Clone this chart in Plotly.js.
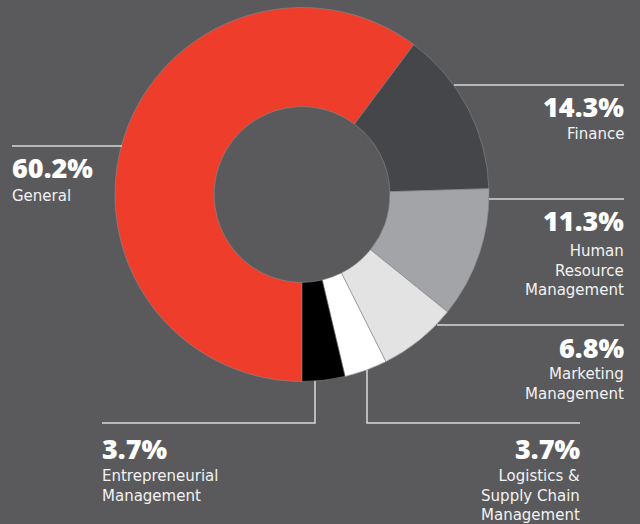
<!DOCTYPE html>
<html>
<head>
<meta charset="utf-8">
<script src="https://cdn.plot.ly/plotly-3.0.1.min.js"></script>
<style>
html,body{margin:0;padding:0;background:#5a5a5c;}
#chart{width:640px;height:524px;}
</style>
</head>
<body>
<div id="chart"></div>
<script>
// ---- data ----
const categories = ["General", "Finance", "Human Resource Management", "Marketing Management", "Logistics & Supply Chain Management", "Entrepreneurial Management"];
const shares = [60.2, 14.3, 11.3, 6.8, 3.7, 3.7];
const labelLines = [["General"], ["Finance"], ["Human", "Resource", "Management"], ["Marketing", "Management"], ["Logistics &", "Supply Chain", "Management"], ["Entrepreneurial", "Management"]];
const sliceColors = ["#ee3e2b", "#45464a", "#a3a4a7", "#e4e3e4", "#ffffff", "#000000"];

// ---- layout helpers (pixel placement of callouts) ----
const W = 640, H = 524;
const px = x => x / W;
const py = y => 1 - y / H;
// x: text edge, pc: percent cap centre, lt: first label cap top
const callouts = [
  {x: 12,  pc: 167.5, lt: 189, align: "left",  line: [[12,146],[122,146]]},
  {x: 624, pc: 106.3, lt: 127, align: "right", line: [[454,85],[624,85]]},
  {x: 624, pc: 220.7, lt: 244, align: "right", line: [[489,199],[624,199]]},
  {x: 624, pc: 347.8, lt: 367, align: "right", line: [[437,325],[624,325]]},
  {x: 580, pc: 448.3, lt: 469, align: "right", line: [[367,370],[367,423],[580,423]]},
  {x: 102, pc: 448.3, lt: 469, align: "left",  line: [[315,381],[315,423],[102,423]]}
];

const annotations = [];
const shapes = [];
callouts.forEach((c, i) => {
  const dx = c.align === "left" ? -1 : 1;
  annotations.push({
    xref: "paper", yref: "paper", x: px(c.x + dx), y: py(c.pc),
    xanchor: c.align, yanchor: "middle", showarrow: false, borderpad: 0,
    text: shares[i].toFixed(1) + "%",
    font: {family: "Open Sans, Roboto, sans-serif", size: 27, weight: 800, color: "#ffffff"}
  });
  annotations.push({
    xref: "paper", yref: "paper", x: px(c.x + dx), y: py(c.lt - 3),
    xanchor: c.align, yanchor: "top", align: c.align, showarrow: false, borderpad: 0,
    text: labelLines[i].join("<br>"),
    font: {family: "DejaVu Sans, sans-serif", size: 15, color: "#f2f2f2"}
  });
  const pts = c.line;
  let path = "M" + px(pts[0][0]) + "," + py(pts[0][1]);
  for (let k = 1; k < pts.length; k++) path += " L" + px(pts[k][0]) + "," + py(pts[k][1]);
  shapes.push({type: "path", xref: "paper", yref: "paper", path: path,
    line: {color: "#d9d9d9", width: 1.5}});
});

const trace = {
  type: "pie",
  labels: categories,
  values: shares,
  sort: false,
  direction: "clockwise",
  rotation: 180,
  hole: 0.47,
  textinfo: "none",
  hoverinfo: "none",
  showlegend: false,
  marker: {colors: sliceColors, line: {color: "#8a8a8c", width: 0.6}},
  domain: {x: [px(115), px(489)], y: [py(382), py(7)]}
};

const layout = {
  width: W, height: H,
  margin: {l: 0, r: 0, t: 0, b: 0},
  paper_bgcolor: "#5a5a5c",
  plot_bgcolor: "#5a5a5c",
  showlegend: false,
  annotations: annotations,
  shapes: shapes
};

Plotly.newPlot("chart", [trace], layout, {displayModeBar: false, staticPlot: true});
</script>
</body>
</html>
